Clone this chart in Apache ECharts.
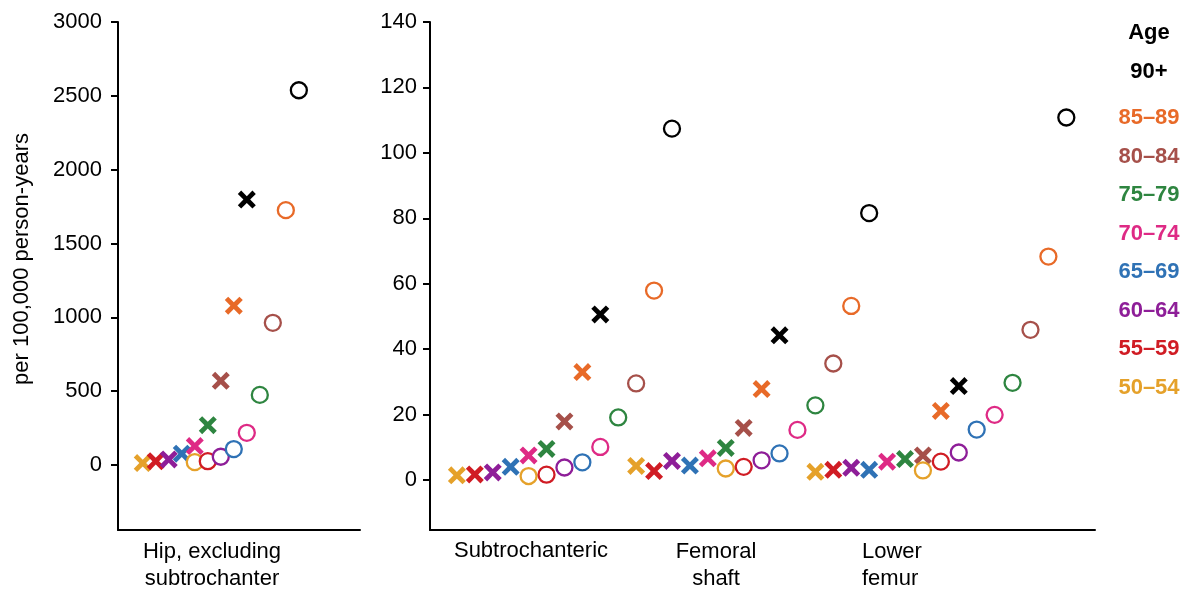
<!DOCTYPE html>
<html>
<head>
<meta charset="utf-8">
<script src="https://cdn.jsdelivr.net/npm/echarts@6/dist/echarts.min.js"></script>
<style>
    html, body {margin: 0; padding: 0; background: #fff;}
    #echartsmain {width: 1188px; height: 593px;}
</style>
</head>
<body>
<div id="echartsmain"></div>
<script>
// 年龄组与颜色
var ages = ['50–54', '55–59', '60–64', '65–69', '70–74', '75–79', '80–84', '85–89', '90+'];
var ageColors = ['#E5A12A', '#D01C24', '#8E1E98', '#2F72B5', '#DE2A85', '#2E8540', '#A6504A', '#E86A28', '#000000'];

// per 100,000 person-years, 叉 = cross, 圈 = circle
var hipCross = [13, 26, 38, 77, 128, 270, 570, 1079, 1798];
var hipCircle = [20, 26, 56, 108, 218, 475, 963, 1726, 2538];
var subCross = [1.4, 1.7, 2.3, 4.0, 7.5, 9.5, 17.9, 33.0, 50.6];
var subCircle = [1.2, 1.6, 3.8, 5.4, 10.1, 19.1, 29.5, 57.9, 107.4];
var shaftCross = [4.3, 2.7, 5.8, 4.4, 6.6, 9.8, 15.9, 27.8, 44.2];
var shaftCircle = [3.5, 4.0, 6.0, 8.1, 15.3, 22.8, 35.6, 53.2, 81.6];
var lowerCross = [2.5, 3.1, 3.7, 3.1, 5.6, 6.4, 7.5, 21.1, 28.7];
var lowerCircle = [2.9, 5.6, 8.4, 15.4, 19.9, 29.7, 45.9, 68.3, 110.8];

var hipTicks = [0, 500, 1000, 1500, 2000, 2500, 3000];
var siteTicks = [0, 20, 40, 60, 80, 100, 120, 140];

var crossPath = 'path://M3,0 L8,5 L13,0 L16,3 L11,8 L16,13 L13,16 L8,11 L3,16 L0,13 L5,8 L0,3 Z';
var fontName = 'Liberation Sans, Arial, sans-serif';

// 每组起始槽位
function makeSeries(values, start, isCross, axisIdx) {
    var data = [];
    for (var i = 0; i < values.length; i++) {
        data.push({
            value: [start + i, values[i]],
            itemStyle: isCross ? {color: ageColors[i], opacity: 1} : {color: '#fff', borderColor: ageColors[i], borderWidth: 2.3, opacity: 1}
        });
    }
    return {
        type: 'scatter',
        xAxisIndex: axisIdx,
        yAxisIndex: axisIdx,
        symbol: isCross ? crossPath : 'circle',
        symbolSize: isCross ? 18 : 16,
        data: data,
        silent: true
    };
}

var series = [];
series.push(makeSeries(hipCross, 0, true, 0));
series.push(makeSeries(hipCircle, 4, false, 0));
series.push(makeSeries(subCross, 0, true, 1));
series.push(makeSeries(subCircle, 4, false, 1));
series.push(makeSeries(shaftCross, 10, true, 1));
series.push(makeSeries(shaftCircle, 15, false, 1));
series.push(makeSeries(lowerCross, 20, true, 1));
series.push(makeSeries(lowerCircle, 26, false, 1));

function yAxisCfg(min, max, ticks, margin) {
    return {
        type: 'value',
        min: min,
        max: max,
        axisLine: {show: true, onZero: false, lineStyle: {color: '#000', width: 2}},
        axisTick: {show: true, customValues: ticks, length: 7, lineStyle: {color: '#000', width: 2}},
        axisLabel: {
            customValues: ticks, color: '#000', fontSize: 22, fontFamily: fontName, margin: margin,
            formatter: function (v) { return String(v); }
        },
        splitLine: {show: false}
    };
}

function xAxisCfg(gridIdx, min, max) {
    return {
        type: 'value',
        gridIndex: gridIdx,
        min: min,
        max: max,
        axisLine: {show: true, onZero: false, lineStyle: {color: '#000', width: 2}},
        axisTick: {show: false},
        axisLabel: {show: false},
        splitLine: {show: false}
    };
}

var yA0 = yAxisCfg(-440, 3000, hipTicks, 16);
yA0.gridIndex = 0;
var yA1 = yAxisCfg(-15.3, 140, siteTicks, 13);
yA1.gridIndex = 1;

var graphics = [];
function addText(txt, x, y, opts) {
    graphics.push({
        type: 'text',
        x: x,
        y: y,
        rotation: opts.rotation || 0,
        style: {
            text: txt,
            fill: opts.color || '#000',
            font: (opts.bold ? 'bold ' : '') + (opts.size || 22) + 'px ' + fontName,
            textAlign: opts.align || 'center',
            textVerticalAlign: 'middle',
            lineHeight: 27
        }
    });
}

addText('per 100,000 person-years', 22, 259, {rotation: Math.PI / 2, size: 22});
addText('Hip, excluding\nsubtrochanter', 212, 565, {});
addText('Subtrochanteric', 531, 551, {});
addText('Femoral\nshaft', 716, 565, {});
addText('Lower\nfemur', 862, 565, {align: 'left'});

addText('Age', 1149, 33, {bold: true});
for (var k = ages.length - 1; k >= 0; k--) {
    var row = ages.length - 1 - k;
    addText(ages[k], 1149, row === 0 ? 72 : 118 + (row - 1) * 38.5, {bold: true, color: ageColors[k]});
}

var option = {
    animation: false,
    backgroundColor: '#fff',
    grid: [
        {left: 118, top: 22, width: 242, height: 508},
        {left: 430, top: 22, width: 665, height: 508}
    ],
    xAxis: [xAxisCfg(0, -1.9, 16.7), xAxisCfg(1, -1.5, 35.6)],
    yAxis: [yA0, yA1],
    series: series,
    graphic: graphics
};

var myChart = echarts.init(document.getElementById('echartsmain'));
myChart.setOption(option);
</script>
</body>
</html>
